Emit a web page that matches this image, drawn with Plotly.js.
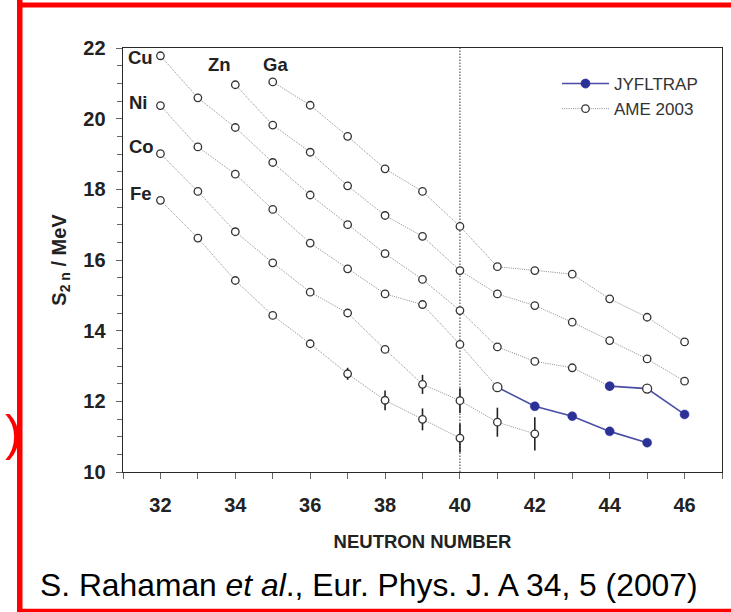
<!DOCTYPE html>
<html>
<head>
<meta charset="utf-8">
<script src="https://cdn.plot.ly/plotly-3.0.1.min.js"></script>
<style>
  html, body { margin: 0; padding: 0; background: #ffffff; }
  #chart { width: 731px; height: 612px; }
</style>
</head>
<body>
<div id="chart"></div>
<script>
// ---- Data ----
// AME 2003 two-neutron separation energies S2n (MeV) vs neutron number
const feN = [32, 33, 34, 35, 36, 37, 38, 39, 40];
const feS2n = [17.69, 16.62, 15.42, 14.43, 13.63, 12.78, 12.03, 11.49, 10.96];
const feErr = [0, 0, 0, 0, 0, 0.17, 0.28, 0.31, 0.41];

const coN = [32, 33, 34, 35, 36, 37, 38, 39, 40, 41, 42];
const coS2n = [19.01, 17.94, 16.80, 15.92, 15.09, 14.50, 13.47, 12.48, 12.02, 11.41, 11.08];
const coErr = [0, 0, 0, 0, 0, 0, 0, 0.27, 0.35, 0.41, 0.47];

const niN = [32, 33, 34, 35, 36, 37, 38, 39, 40, 41];
const niS2n = [20.37, 19.20, 18.43, 17.43, 16.48, 15.75, 15.04, 14.74, 13.61, 12.40];
const niErr = [0, 0, 0, 0, 0, 0, 0, 0, 0, 0.04];

const cuN = [32, 33, 34, 35, 36, 37, 38, 39, 40, 41, 42, 43, 44];
const cuS2n = [21.78, 20.59, 19.75, 18.76, 17.84, 17.00, 16.18, 15.45, 14.57, 13.54, 13.13, 12.95, 12.43];
const cuErr = [0, 0, 0, 0, 0, 0, 0, 0, 0.05, 0, 0, 0, 0];

const znN = [34, 35, 36, 37, 38, 39, 40, 41, 42, 43, 44, 45, 46];
const znS2n = [20.96, 19.82, 19.05, 18.10, 17.26, 16.67, 15.70, 15.04, 14.71, 14.24, 13.72, 13.20, 12.57];
const znErr = [0, 0, 0, 0, 0, 0, 0.05, 0, 0, 0.08, 0.1, 0.1, 0.1];

const gaN = [35, 36, 37, 38, 39, 40, 41, 42, 43, 44, 45, 46];
const gaS2n = [21.04, 20.38, 19.50, 18.58, 17.94, 16.95, 15.81, 15.70, 15.60, 14.90, 14.38, 13.68];
const gaErr = [0, 0, 0, 0, 0, 0.05, 0, 0, 0, 0, 0, 0];

// JYFLTRAP measurements
const niJyflN = [41, 42, 43, 44, 45];
const niJyflS2n = [12.40, 11.86, 11.58, 11.15, 10.83];
const cuJyflN = [44, 45, 46];
const cuJyflS2n = [12.43, 12.36, 11.63];
// points where the JYFLTRAP line passes through an AME (open) value
const niJyflOpenAt = 41;
const cuJyflOpenAt = 45;

// element labels
const elemNames = ['Cu', 'Ni', 'Co', 'Fe', 'Zn', 'Ga'];
const elemLabelN = [31.07, 31.12, 31.10, 31.14, 33.59, 35.06];
const elemLabelS2n = [21.72, 20.47, 19.21, 17.88, 21.53, 21.53];

const xTickVals = [32, 34, 36, 38, 40, 42, 44, 46];
const shellClosureN = 40;

// ---- Styles ----
const FONT = 'Liberation Sans, Arial, Helvetica, sans-serif';
const INK = '#222222';
const BLUE = '#2c3197';
const BLUE_LINE = '#4a4ea6';

function ameTrace(xs, ys, errs, showLegend) {
  return {
    type: 'scatter', mode: 'lines+markers',
    x: xs, y: ys,
    name: 'AME 2003',
    showlegend: showLegend,
    legendrank: 2,
    line: { color: '#8a8a8a', width: 1, dash: '1px,1.2px' },
    marker: { symbol: 'circle', size: 7.5, color: '#ffffff', line: { color: '#333333', width: 1.3 } },
    error_y: { type: 'data', array: errs, visible: true, color: '#222222', thickness: 1.6, width: 0 },
    hoverinfo: 'x+y'
  };
}

function jyflTrace(xs, ys, openAt, showLegend) {
  return {
    type: 'scatter', mode: 'lines+markers',
    x: xs, y: ys,
    name: 'JYFLTRAP',
    showlegend: showLegend,
    legendrank: 1,
    line: { color: BLUE_LINE, width: 1.6 },
    marker: {
      symbol: 'circle', size: 9,
      color: xs.map(n => n === openAt ? '#ffffff' : BLUE),
      line: { color: xs.map(n => n === openAt ? '#333333' : BLUE), width: xs.map(n => n === openAt ? 1.3 : 0.5) }
    },
    hoverinfo: 'x+y'
  };
}

const traces = [
  ameTrace(feN, feS2n, feErr, false),
  ameTrace(coN, coS2n, coErr, false),
  ameTrace(niN, niS2n, niErr, false),
  ameTrace(cuN, cuS2n, cuErr, true),
  ameTrace(znN, znS2n, znErr, false),
  ameTrace(gaN, gaS2n, gaErr, false),
  jyflTrace(niJyflN, niJyflS2n, niJyflOpenAt, false),
  jyflTrace(cuJyflN, cuJyflS2n, cuJyflOpenAt, true)
];

// pixel helpers for decorations outside the plot area
const ML = 123, MR = 9, MT = 48, MB = 140, W = 731, H = 612;
const PW = W - ML - MR, PH = H - MT - MB;
const px = v => (v - ML) / PW;
const py = v => (H - MB - v) / PH;

const annotations = elemNames.map((t, i) => ({
  x: elemLabelN[i], y: elemLabelS2n[i], xref: 'x', yref: 'y',
  text: t, showarrow: false,
  xanchor: i < 4 ? 'left' : 'center', yanchor: 'middle',
  font: { family: FONT, size: 18.5, color: INK, weight: 'bold' }
}));

annotations.push({
  x: px(38), y: py(585), xref: 'paper', yref: 'paper',
  text: 'S. Rahaman <i>et al</i>., Eur. Phys. J. A 34, 5 (2007)',
  showarrow: false, xanchor: 'left', yanchor: 'middle',
  font: { family: FONT, size: 31.8, color: '#000000' }
});
annotations.push({
  x: px(13), y: py(433), xref: 'paper', yref: 'paper',
  text: ')', showarrow: false, xanchor: 'center', yanchor: 'middle',
  font: { family: FONT, size: 50, color: '#ff0000' }
});

const RED = '#ff0000';
const shapes = [
  { type: 'line', xref: 'x', yref: 'paper', x0: shellClosureN, x1: shellClosureN, y0: 0, y1: 1,
    line: { color: '#333333', width: 1, dash: '1.5px,1.5px' }, layer: 'below' },
  // red frame (left, top, bottom)
  { type: 'rect', xref: 'paper', yref: 'paper', x0: px(17), x1: px(22.5), y0: py(612), y1: py(0),
    fillcolor: RED, line: { width: 0 } },
  { type: 'rect', xref: 'paper', yref: 'paper', x0: px(17), x1: px(731), y0: py(7.5), y1: py(2.5),
    fillcolor: RED, line: { width: 0 } },
  { type: 'rect', xref: 'paper', yref: 'paper', x0: px(17), x1: px(731), y0: py(612), y1: py(608.8),
    fillcolor: RED, line: { width: 0 } }
];

const layout = {
  width: W, height: H,
  margin: { l: ML, r: MR, t: MT, b: MB, pad: 0 },
  paper_bgcolor: '#ffffff', plot_bgcolor: '#ffffff',
  font: { family: FONT, color: INK },
  showlegend: true,
  legend: {
    x: px(557), y: py(66), xanchor: 'left', yanchor: 'top',
    bgcolor: 'rgba(0,0,0,0)', borderwidth: 0,
    font: { family: FONT, size: 17, color: '#333333' },
    itemwidth: 47, tracegroupgap: 0
  },
  xaxis: {
    range: [31, 47], autorange: false,
    tickmode: 'array', tickvals: xTickVals,
    ticks: 'outside', ticklen: 6, tickwidth: 1, tickcolor: '#666666',
    minor: { dtick: 1, tick0: 31, ticks: 'outside', ticklen: 6, tickwidth: 1, tickcolor: '#666666', showgrid: false },
    tickfont: { family: FONT, size: 20, color: INK, weight: 'bold' },
    ticklabelstandoff: 9,
    showline: true, linecolor: '#2a2a2a', linewidth: 1.4, mirror: true,
    showgrid: false, zeroline: false,
    title: { text: 'NEUTRON NUMBER', standoff: 19,
      font: { family: FONT, size: 18.5, color: INK, weight: 'bold' } }
  },
  yaxis: {
    range: [10, 22], autorange: false,
    dtick: 2, tick0: 10,
    ticks: 'outside', ticklen: 6, tickwidth: 1, tickcolor: '#666666',
    minor: { dtick: 0.5, ticks: 'outside', ticklen: 5, tickwidth: 1, tickcolor: '#666666', showgrid: false },
    tickfont: { family: FONT, size: 20, color: INK, weight: 'bold' },
    ticklabelstandoff: 6,
    showline: true, linecolor: '#2a2a2a', linewidth: 1.4, mirror: true,
    showgrid: false, zeroline: false,
    title: { text: 'S<sub>2 n</sub> / MeV', standoff: 11,
      font: { family: FONT, size: 20, color: INK, weight: 'bold' } }
  },
  annotations: annotations,
  shapes: shapes
};

Plotly.newPlot('chart', traces, layout, { displayModeBar: false, staticPlot: true });
</script>
</body>
</html>
